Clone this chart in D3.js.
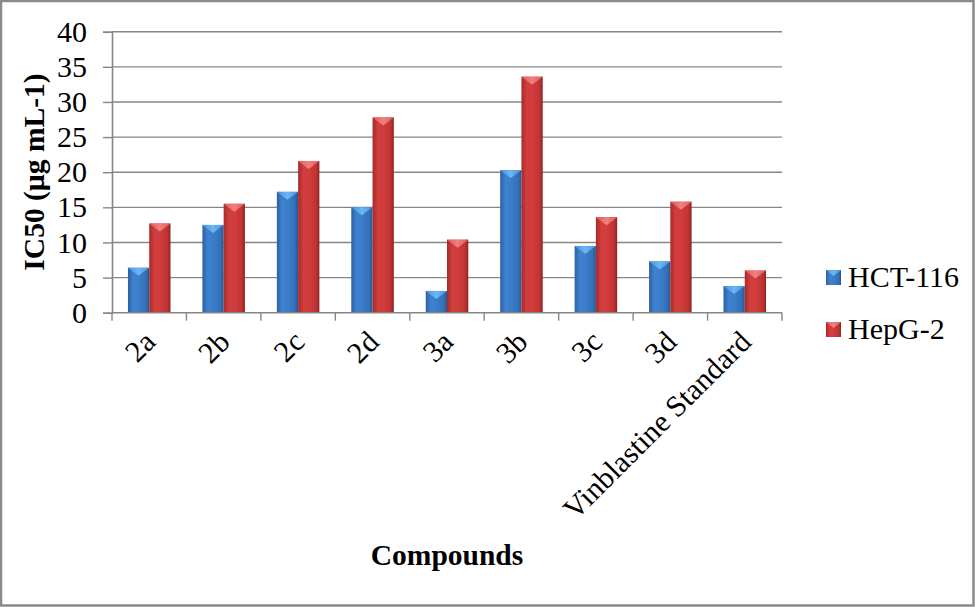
<!DOCTYPE html>
<html>
<head>
<meta charset="utf-8">
<script src="https://cdn.jsdelivr.net/npm/d3@7"></script>
<style>
html,body{margin:0;padding:0;background:#fff;}
svg{display:block;}
text{font-family:"Liberation Serif","Times New Roman",serif;fill:#000;}
</style>
</head>
<body>
<svg id="chart" width="975" height="607"></svg>
<script>
const categories = ["2a","2b","2c","2d","3a","3b","3c","3d","Vinblastine Standard"];
const seriesNames = ["HCT-116","HepG-2"];
const hct116 = [6.4,12.5,17.2,15.0,3.1,20.3,9.5,7.3,3.8];
const hepg2 = [12.7,15.5,21.6,27.8,10.4,33.6,13.6,15.8,6.0];
const yTicks = [0,5,10,15,20,25,30,35,40];
const yTitle = "IC50 (µg mL-1)";
const xTitle = "Compounds";

const W = 975, H = 607;
const margin = {left:112, right:193, top:31.7, bottom:294.3};
const svg = d3.select("#chart");

// frame
svg.append("rect").attr("x",1).attr("y",1).attr("width",W-2.5).attr("height",H-2.5)
  .attr("fill","#fff").attr("stroke","#8a8a8a").attr("stroke-width",2.5);

const defs = svg.append("defs");
function grad(id, stops){
  const g = defs.append("linearGradient").attr("id",id).attr("x1","0%").attr("x2","100%").attr("y1","0%").attr("y2","0%");
  stops.forEach(s=>g.append("stop").attr("offset",s[0]).attr("stop-color",s[1]));
}
grad("gBlue",[["0%","#2c609f"],["25%","#3f82cf"],["55%","#3b7cc8"],["85%","#3370b6"],["100%","#24568f"]]);
grad("gRed",[["0%","#a62a2a"],["25%","#d23d3d"],["55%","#d03b3b"],["85%","#c03434"],["100%","#8e2222"]]);
grad("gBlueTop",[["0%","#4a93dc"],["50%","#6bb6f4"],["100%","#4a93dc"]]);
grad("gRedTop",[["0%","#e05a5a"],["50%","#f08080"],["100%","#e05a5a"]]);
const fills = {"HCT-116":["url(#gBlue)","url(#gBlueTop)"], "HepG-2":["url(#gRed)","url(#gRedTop)"]};

const x0 = d3.scaleBand().domain(categories).range([margin.left, W-margin.right]).paddingInner(0).paddingOuter(0);
const bw = x0.bandwidth();
const x1 = d3.scaleBand().domain(seriesNames).range([bw*0.2143, bw*0.7857]).padding(0);
const y = d3.scaleLinear().domain([0,40]).range([H-margin.bottom, margin.top]);

// gridlines
svg.append("g").selectAll("line").data(yTicks.filter(t=>t>0)).join("line")
  .attr("x1",margin.left).attr("x2",W-margin.right)
  .attr("y1",d=>y(d)).attr("y2",d=>y(d))
  .attr("stroke","#868686").attr("stroke-width",1.4);

// y axis
const yAxis = svg.append("g").attr("transform",`translate(${margin.left},0)`)
  .call(d3.axisLeft(y).tickValues(yTicks).tickSize(9).tickPadding(16).tickFormat(d3.format("d")));
yAxis.select(".domain").attr("stroke","#868686").attr("stroke-width",1.6);
yAxis.selectAll(".tick line").attr("stroke","#868686").attr("stroke-width",1.4);
yAxis.selectAll(".tick text").attr("font-size",30).attr("font-family","Liberation Serif").attr("fill","#000");

// bars
const data = categories.map((c,i)=>({cat:c, vals:[{s:"HCT-116",v:hct116[i]},{s:"HepG-2",v:hepg2[i]}]}));
const groups = svg.append("g").selectAll("g").data(data).join("g")
  .attr("transform",d=>`translate(${x0(d.cat)},0)`);
groups.selectAll("rect").data(d=>d.vals).join("rect")
  .attr("x",d=>x1(d.s)).attr("width",x1.bandwidth())
  .attr("y",d=>y(d.v)).attr("height",d=>y(0)-y(d.v))
  .attr("fill",d=>fills[d.s][0]);
groups.selectAll("path").data(d=>d.vals).join("path")
  .attr("d",d=>{const xl=x1(d.s), w=x1.bandwidth(), t=y(d.v);
    return `M${xl},${t}L${xl+w},${t}L${xl+w/2},${t+8}Z`;})
  .attr("fill",d=>fills[d.s][1]);

// x axis
const xAxisG = svg.append("g");
xAxisG.append("line").attr("x1",margin.left).attr("x2",W-margin.right)
  .attr("y1",y(0)).attr("y2",y(0)).attr("stroke","#868686").attr("stroke-width",1.6);
const boundaries = categories.map(c=>x0(c)).concat([x0(categories[categories.length-1])+bw]);
xAxisG.selectAll("line.tk").data(boundaries).join("line").attr("class","tk")
  .attr("x1",d=>d).attr("x2",d=>d).attr("y1",y(0)).attr("y2",y(0)+8)
  .attr("stroke","#868686").attr("stroke-width",1.4);
xAxisG.selectAll("text").data(categories).join("text")
  .attr("text-anchor","end").attr("font-size",30)
  .attr("transform",d=>`translate(${x0(d)+bw/2+8},${y(0)+31}) rotate(-45)`)
  .text(d=>d);

// titles
svg.append("text").attr("x",(margin.left+W-margin.right)/2).attr("y",565)
  .attr("text-anchor","middle").attr("font-size",29.5).attr("font-weight","bold").text(xTitle);
svg.append("text").attr("transform","translate(44,172) rotate(-90)")
  .attr("text-anchor","middle").attr("font-size",29.5).attr("font-weight","bold").text(yTitle);

// legend
const leg = svg.append("g").selectAll("g").data(seriesNames).join("g")
  .attr("transform",(d,i)=>`translate(826,${270+i*52})`);
leg.append("rect").attr("width",15).attr("height",15).attr("fill",d=>fills[d][0]);
leg.append("path").attr("d","M0,0L15,0L7.5,6Z").attr("fill",d=>fills[d][1]);
leg.append("text").attr("x",22).attr("y",17).attr("font-size",30).text(d=>d);
</script>
</body>
</html>
